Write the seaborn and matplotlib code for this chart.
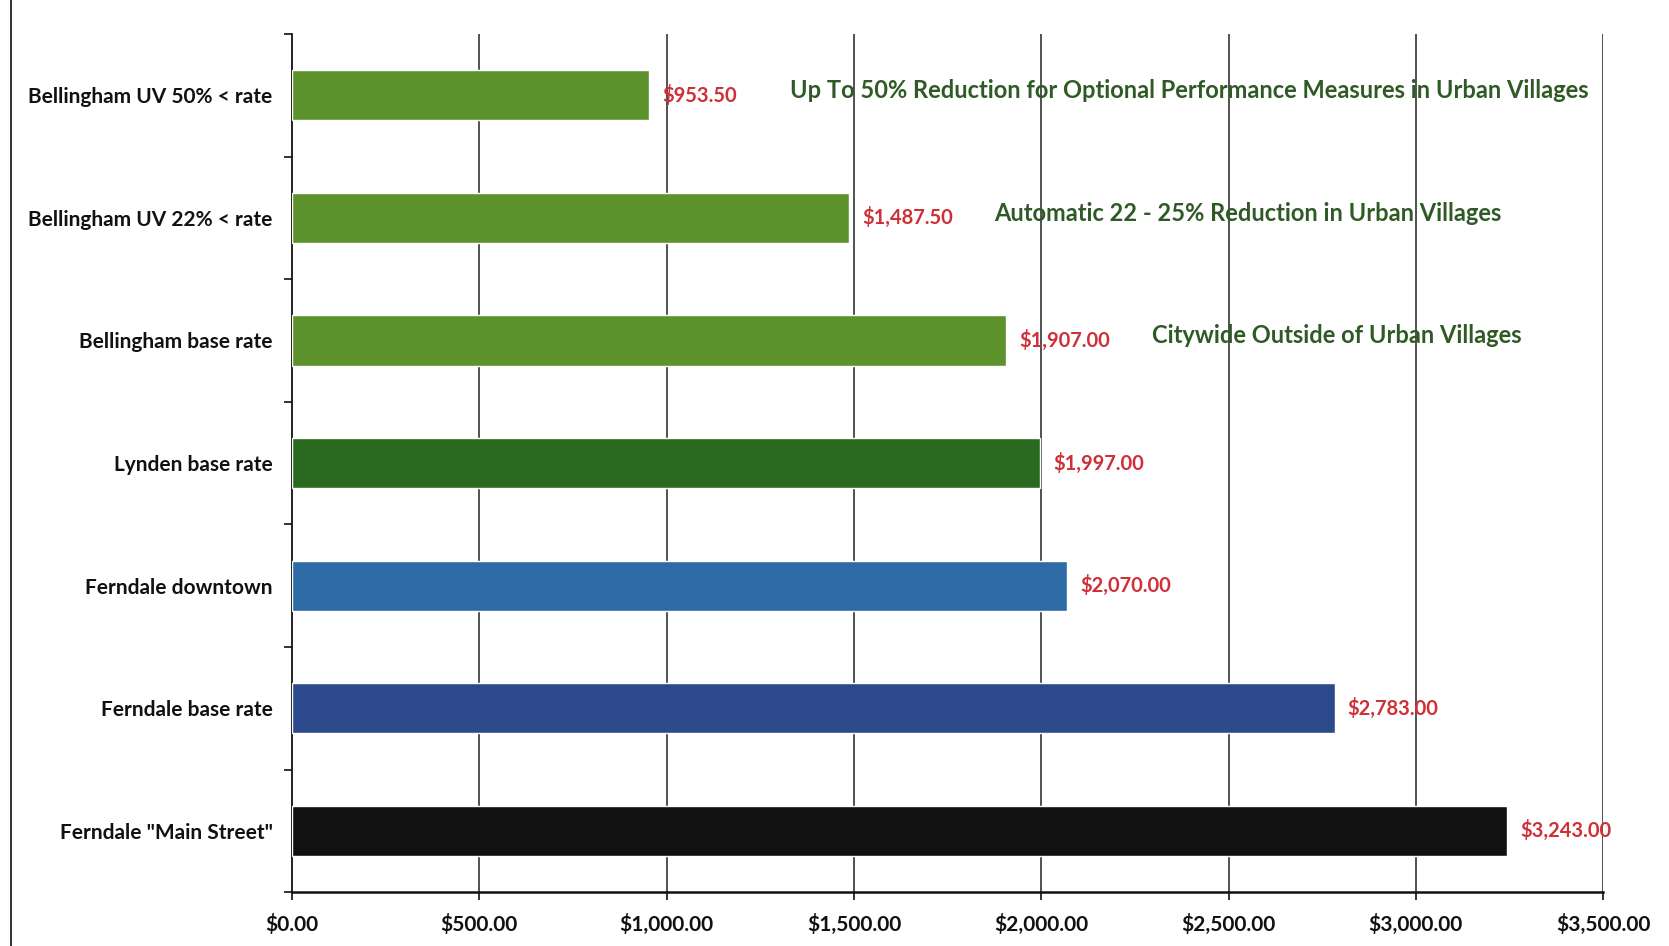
import numpy as np
import pandas as pd
import matplotlib.pyplot as plt
import matplotlib.ticker as mticker
from matplotlib.lines import Line2D
import seaborn as sns

# Chart data
categories = ['Bellingham UV 50% < rate', 'Bellingham UV 22% < rate', 'Bellingham base rate',
              'Lynden base rate', 'Ferndale downtown', 'Ferndale base rate', 'Ferndale "Main Street"']
fees = [953.50, 1487.50, 1907.00, 1997.00, 2070.00, 2783.00, 3243.00]
bar_colors = ['#5c932d', '#5c932d', '#5c932d', '#2a6a1e', '#2e6ba6', '#2c4a8b', '#111111']
notes = ['Up To 50% Reduction for Optional Performance Measures in Urban Villages',
         'Automatic 22 - 25% Reduction in Urban Villages',
         'Citywide Outside of Urban Villages']
note_x = [1330, 1875, 2295]
x_ticks = [0, 500, 1000, 1500, 2000, 2500, 3000, 3500]

df = pd.DataFrame({'category': categories, 'fee': fees})

sns.set_theme(style='white')
plt.rcParams['font.family'] = ['Lato', 'DejaVu Sans']

fig = plt.figure(figsize=(16.69, 9.46), dpi=100)
ax = fig.add_axes([0.175, 0.057, 0.7855, 0.907])

sns.barplot(data=df, x='fee', y='category', hue='category', palette=bar_colors,
            orient='h', width=0.41, legend=False, saturation=1, ax=ax, zorder=3)

# gridlines under the bars
ax.set_xlim(0, 3500)
ax.set_ylim(6.5, -0.5)
ax.set_xticks(x_ticks)
ax.xaxis.set_major_formatter(mticker.FuncFormatter(lambda v, p: f'${v:,.2f}'))
for xv in x_ticks[1:]:
    ax.axvline(xv, color='#222222', lw=1.1, zorder=1)

# value labels
for i, v in enumerate(fees):
    ax.text(v + 35, i, f'${v:,.2f}', color='#cf2f36', fontsize=14.5, fontweight='bold',
            va='center', ha='left', zorder=4)

# notes on the Bellingham bars
for i, (t, xv) in enumerate(zip(notes, note_x)):
    ax.text(xv, i - 0.04, t, color='#2f5a26', fontsize=17, fontweight='bold',
            va='center', ha='left', zorder=4)

ax.set_xlabel('')
ax.set_ylabel('')
for s in ['top', 'right']:
    ax.spines[s].set_visible(False)
ax.spines['left'].set_color('#111111')
ax.spines['bottom'].set_color('#111111')
ax.spines['left'].set_linewidth(1.3)
ax.spines['bottom'].set_linewidth(1.8)

ax.tick_params(axis='y', which='major', length=0, pad=14, labelsize=15)
ax.set_yticks(np.arange(-0.5, 7, 1), minor=True)
ax.tick_params(axis='y', which='minor', length=6, width=1.2, color='#111111', direction='out', left=True)
ax.tick_params(axis='x', which='major', length=6, width=1.2, color='#111111', direction='out',
               bottom=True, labelsize=15, pad=10)
for lab in ax.get_yticklabels() + ax.get_xticklabels():
    lab.set_fontweight('bold')
    lab.set_color('#111111')

# border line at the far left of the figure
fig.add_artist(Line2D([0.0066, 0.0066], [0, 1], color='#222222', lw=1.3, transform=fig.transFigure))

fig.savefig('out.png', dpi=100, facecolor='white')
